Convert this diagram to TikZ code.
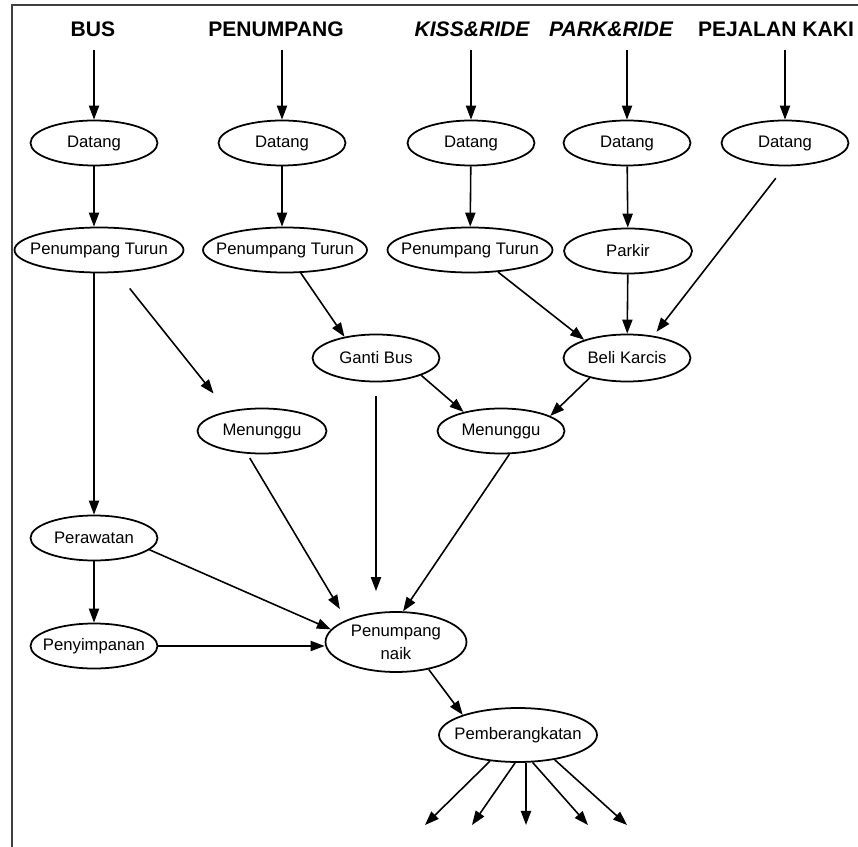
\documentclass[tikz,border=0pt]{standalone}
\usepackage{fontspec}
\setmainfont{Liberation Sans}
\usetikzlibrary{shapes.geometric,arrows.meta}

\begin{document}
\begin{tikzpicture}[x=0.02cm,y=-0.02cm,
    oval/.style={ellipse, draw, line width=1pt, inner xsep=-0.6cm, inner ysep=-0.3cm,
        minimum width=2.54cm, minimum height=0.9cm, font=\fontsize{9.5}{13}\selectfont},
    head/.style={font=\fontsize{12}{14}\selectfont\bfseries},
    arr/.style={line width=0.9pt, -{Triangle[length=8pt,width=5.8pt]}}]
    \useasboundingbox (0,0) rectangle (858,847);
    % Frame
    \draw[line width=1.1pt, black!75] (12,847) -- (12,5) -- (858,5);
    % Headers
    \node[head] (hbus) at (93,29) {BUS};
    \node[head] (hpen) at (276,29) {PENUMPANG};
    \node[head] (hkiss) at (472,29) {\itshape KISS\&RIDE};
    \node[head] (hpark) at (611,29) {\itshape PARK\&RIDE};
    \node[head] (hjalan) at (776,29) {PEJALAN KAKI};
    % Datang
    \node[oval] (d1) at (94,143) {Datang};
    \node[oval] (d2) at (282,143) {Datang};
    \node[oval] (d3) at (471,143) {Datang};
    \node[oval] (d4) at (627,143) {Datang};
    \node[oval] (d5) at (785,143) {Datang};
    % Turun / parkir
    \node[oval, minimum width=3.38cm] (pt1) at (99,250) {Penumpang Turun};
    \node[oval, minimum width=3.28cm] (pt2) at (285,250) {Penumpang Turun};
    \node[oval, minimum width=3.3cm] (pt3) at (470,250) {Penumpang Turun};
    \node[oval, minimum width=2.56cm] (parkir) at (628,251) {Parkir};
    % Middle
    \node[oval, minimum height=0.94cm] (ganti) at (376,358) {Ganti Bus};
    \node[oval, minimum height=0.94cm] (beli) at (627,358) {Beli Karcis};
    \node[oval, minimum width=2.58cm] (men1) at (262,431) {Menunggu};
    \node[oval] (men2) at (501,431) {Menunggu};
    % Bottom
    \node[oval] (per) at (94,538) {Perawatan};
    \node[oval] (peny) at (94,646) {Penyimpanan};
    \node[oval, minimum width=2.82cm, minimum height=1.2cm, align=center] (naik) at (396,642) {Penumpang\\naik};
    \node[oval, minimum width=3.16cm, minimum height=1.08cm] (pemb) at (518,735) {Pemberangkatan};
    \coordinate (o1) at (425,825);
    \coordinate (o2) at (472,825);
    \coordinate (o3) at (526,825);
    \coordinate (o4) at (588,825);
    \coordinate (o5) at (627,825);
    % Arrows from headers
    \draw[arr, shorten <=0.15cm] (hbus.south -| d1) -- (d1);
    \draw[arr, shorten <=0.15cm] (hpen.south -| d2) -- (d2);
    \draw[arr, shorten <=0.15cm] (hkiss.south -| d3) -- (d3);
    \draw[arr, shorten <=0.15cm] (hpark.south -| d4) -- (d4);
    \draw[arr, shorten <=0.15cm] (hjalan.south -| d5) -- (d5);
    % Datang to next step
    \draw[arr] (d1) -- (pt1.north -| d1);
    \draw[arr] (d2) -- (pt2.north -| d2);
    \draw[arr] (d3) -- (pt3);
    \draw[arr] (d4) -- (parkir);
    \draw[arr, shorten <=0.3cm, shorten >=0.1cm] (d5.south) -- (beli.40);
    % Flows
    \draw[arr] (pt1.south -| per) -- (per);
    \draw[arr, shorten <=0.4cm, shorten >=0.45cm] (pt1) -- (men1.150);
    \draw[arr] (pt2) -- (ganti.146);
    \draw[arr] (pt3) -- (beli.157);
    \draw[arr] (parkir) -- (beli);
    \draw[arr] (ganti.-21) -- (men2.153);
    \draw[arr] (beli.208) -- (men2.17);
    \draw[arr, shorten <=0.28cm, shorten >=0.4cm] (ganti) -- (ganti |- naik.north);
    \draw[arr, shorten <=0.1cm, shorten >=0.25cm] (men1.237) -- (naik.156);
    \draw[arr] (men2.290) -- (naik.77);
    \draw[arr] (per.-12) -- (naik.169);
    \draw[arr] (per) -- (peny);
    \draw[arr] (peny) -- (peny -| naik.west);
    \draw[arr] (naik.-40) -- (pemb.160);
    % Departures
    \draw[arr] (pemb.223) -- (o1);
    \draw[arr] (pemb.264) -- (o2);
    \draw[arr] (pemb.south -| o3) -- (o3);
    \draw[arr] (pemb.298) -- (o4);
    \draw[arr] (pemb.326) -- (o5);
\end{tikzpicture}
\end{document}
